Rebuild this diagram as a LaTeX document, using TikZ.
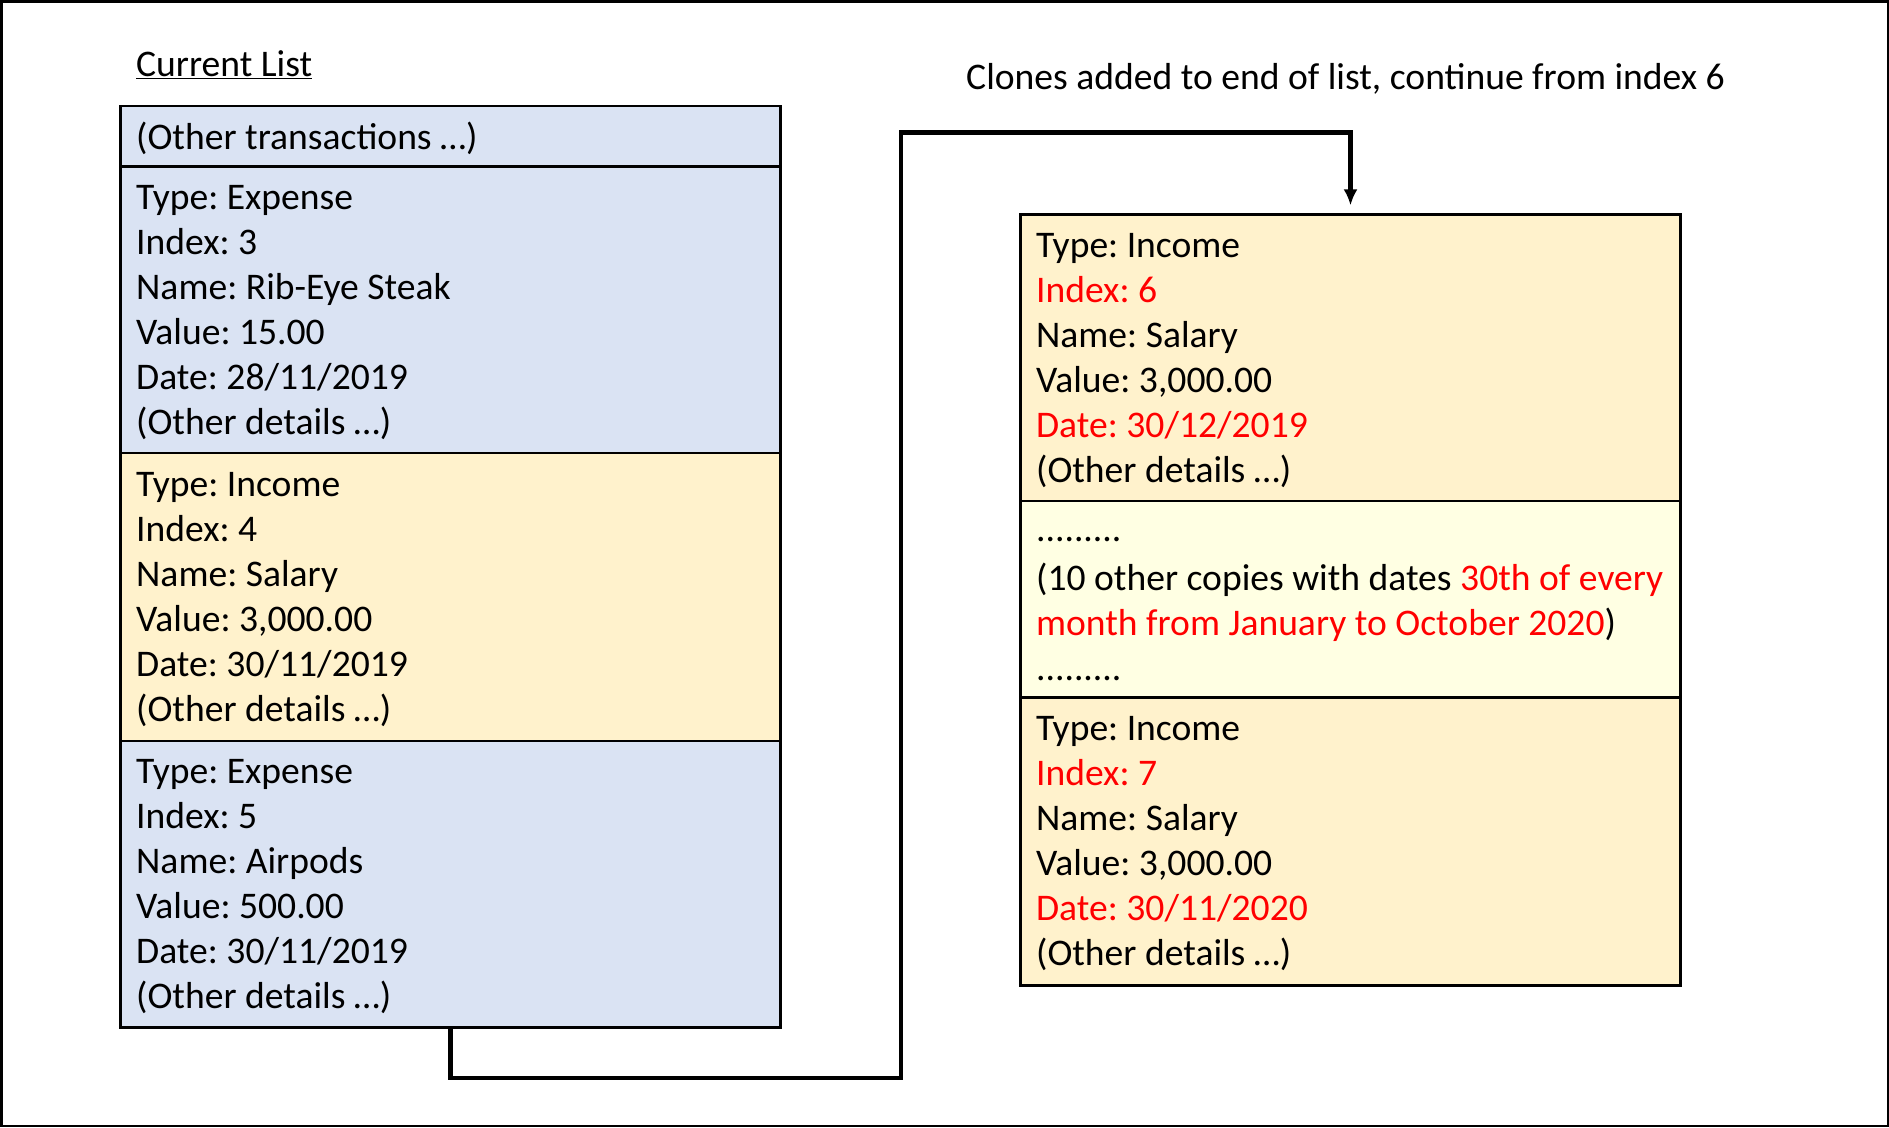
\documentclass[tikz,border=0pt]{standalone}
\usepackage{fontspec}
\setmainfont{Carlito}
\usetikzlibrary{arrows.meta,positioning}
\definecolor{expense}{HTML}{DAE3F3}
\definecolor{income}{HTML}{FFF2CC}
\definecolor{copies}{HTML}{FFFFE3}
\tikzstyle{row}=[draw,line width=2.5pt,rectangle,anchor=north west,align=flush left,text width=628.8pt,inner xsep=15.7pt,inner ysep=0pt,outer sep=0pt,font=\fontsize{37.6}{45}\selectfont\frenchspacing,execute at end node={\endgraf\vspace*{-4.8pt}}]
\tikzstyle{link} = [draw,line width=4.5pt,-{Latex[length=16pt,width=14pt]}]
\tikzstyle{caption} = [anchor=west,inner sep=0pt,font=\fontsize{37.6}{45}\selectfont\frenchspacing]

\begin{document}
\begin{tikzpicture}[x=1pt,y=-1pt]
				% Frame and captions
				\draw[line width=2.5pt] (1.25,1.25) rectangle (1887.75,1125.75);
				\node[caption] (title) at (136,64.5) {\underline{Current List}};
				\node[caption] (note) at (966,78.5) {Clones added to end of list, continue from index 6};

				% Current list, stacked from the top
				\node[row, fill=expense, minimum height=60.3pt] (L1) at (120.5,106) {(Other transactions …)};
				\foreach \name/\prev/\col/\rowh/\txt in {
					L2/L1/expense/286.7/{Type: Expense\\Index: 3\\Name: Rib-Eye Steak\\Value: 15.00\\Date: 28/11/2019\\(Other details …)},
					L3/L2/income/288/{Type: Income\\Index: 4\\Name: Salary\\Value: 3,000.00\\Date: 30/11/2019\\(Other details …)},
					L4/L3/expense/286.6/{Type: Expense\\Index: 5\\Name: Airpods\\Value: 500.00\\Date: 30/11/2019\\(Other details …)}}
				\node[row, fill=\col, minimum height=\rowh pt, below=0pt of \prev] (\name) {\txt};

				% Clones
				\node[row, fill=income, minimum height=286.8pt] (R1) at (1020.4,214.4) {Type: Income\\{\color{red}Index: 6}\\Name: Salary\\Value: 3,000.00\\{\color{red}Date: 30/12/2019}\\(Other details …)};
				\node[row, fill=copies, minimum height=196.3pt, below=0pt of R1, execute at end node={\endgraf\vspace*{-14.4pt}}] (R2) {.........\\[4.8pt]\mbox{(10 other copies with dates {\color{red}30th of every}}\\{\color{red}month from January to October 2020})\\.........};
				\node[row, fill=income, minimum height=287.9pt, below=0pt of R2] (R3) {Type: Income\\{\color{red}Index: 7}\\Name: Salary\\Value: 3,000.00\\{\color{red}Date: 30/11/2020}\\(Other details …)};

				% Connector from the list to the clones
				\coordinate (low) at (901,1078);
				\coordinate (high) at (901,132.5);
				\path[link, shorten >=9pt] (L4.south) |- (low) -- (high) -| (R1.north);
			\end{tikzpicture}
\end{document}
